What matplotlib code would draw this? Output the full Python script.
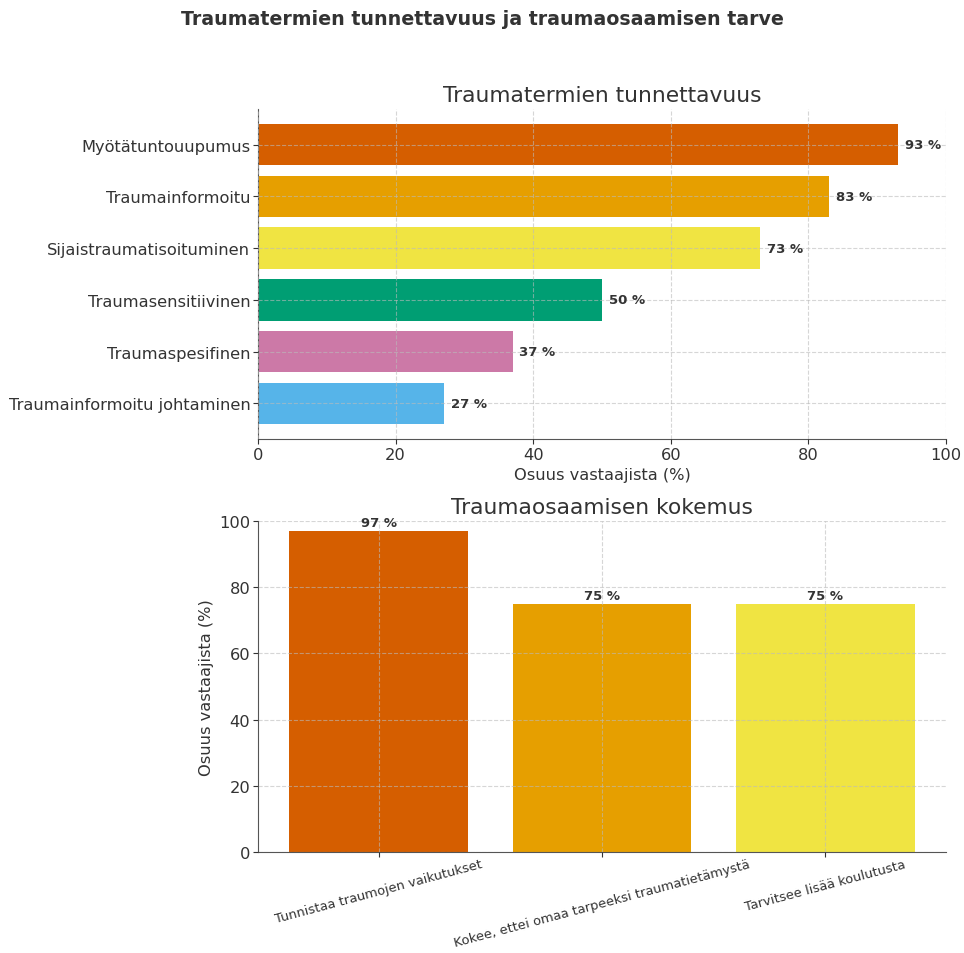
import matplotlib.pyplot as plt

# termien tunnettavuus
termit = ['Myötätuntouupumus', 'Traumainformoitu', 'Sijaistraumatisoituminen',
          'Traumasensitiivinen', 'Traumaspesifinen', 'Traumainformoitu johtaminen']
tunnettavuus = [93, 83, 73, 50, 37, 27]
varit_termit = ['#D55E00', '#E69F00', '#F0E442', '#009E73', '#CC79A7', '#56B4E9']

# osaamisen kokemus
kokemukset = ['Tunnistaa traumojen vaikutukset',
              'Kokee, ettei omaa tarpeeksi traumatietämystä',
              'Tarvitsee lisää koulutusta']
osuudet = [97, 75, 75]
varit_kok = ['#D55E00', '#E69F00', '#F0E442']

teksti = '#333333'
plt.rcParams['text.color'] = teksti
plt.rcParams['axes.labelcolor'] = teksti
plt.rcParams['xtick.color'] = teksti
plt.rcParams['ytick.color'] = teksti

fig = plt.figure(figsize=(9.64, 9.54), dpi=100)
fig.suptitle('Traumatermien tunnettavuus ja traumaosaamisen tarve',
             fontsize=13.7, fontweight='bold', y=0.989)

def tyyli(ax):
    for s in ['top', 'right']:
        ax.spines[s].set_visible(False)
    for s in ['left', 'bottom']:
        ax.spines[s].set_color('#555555')
    ax.grid(True, linestyle='--', color='#bbbbbb', alpha=0.6, linewidth=0.8)
    ax.set_axisbelow(False)
    ax.tick_params(labelsize=11.7, pad=2)

# ylempi: vaakapalkit
ax1 = fig.add_axes([0.2676, 0.5388, 0.7137, 0.3459])
pos = list(range(len(termit)))[::-1]
ax1.barh(pos, tunnettavuus, color=varit_termit, height=0.8)
ax1.set_yticks(pos)
ax1.set_yticklabels(termit)
ax1.set_xlim(0, 100)
ax1.set_xlabel('Osuus vastaajista (%)', fontsize=11.7)
ax1.set_title('Traumatermien tunnettavuus', fontsize=15.7)
for p, v in zip(pos, tunnettavuus):
    ax1.text(v + 1, p, f'{v} %', va='center', ha='left', fontsize=9.5, fontweight='bold')
tyyli(ax1)

# alempi: pystypalkit
ax2 = fig.add_axes([0.2676, 0.1059, 0.7137, 0.347])
x = list(range(len(kokemukset)))
ax2.bar(x, osuudet, color=varit_kok, width=0.8)
ax2.set_xticks(x)
ax2.set_ylim(0, 100)
ax2.set_ylabel('Osuus vastaajista (%)', fontsize=11.7)
ax2.set_title('Traumaosaamisen kokemus', fontsize=15.7)
for i, v in zip(x, osuudet):
    ax2.text(i, v + 0.5, f'{v} %', ha='center', va='bottom', fontsize=9.5, fontweight='bold')
tyyli(ax2)
ax2.tick_params(axis='x', pad=0.5)
ax2.set_xticklabels(kokemukset, rotation=15, ha='center', fontsize=9.4)

fig.savefig('out.png', dpi=100)
